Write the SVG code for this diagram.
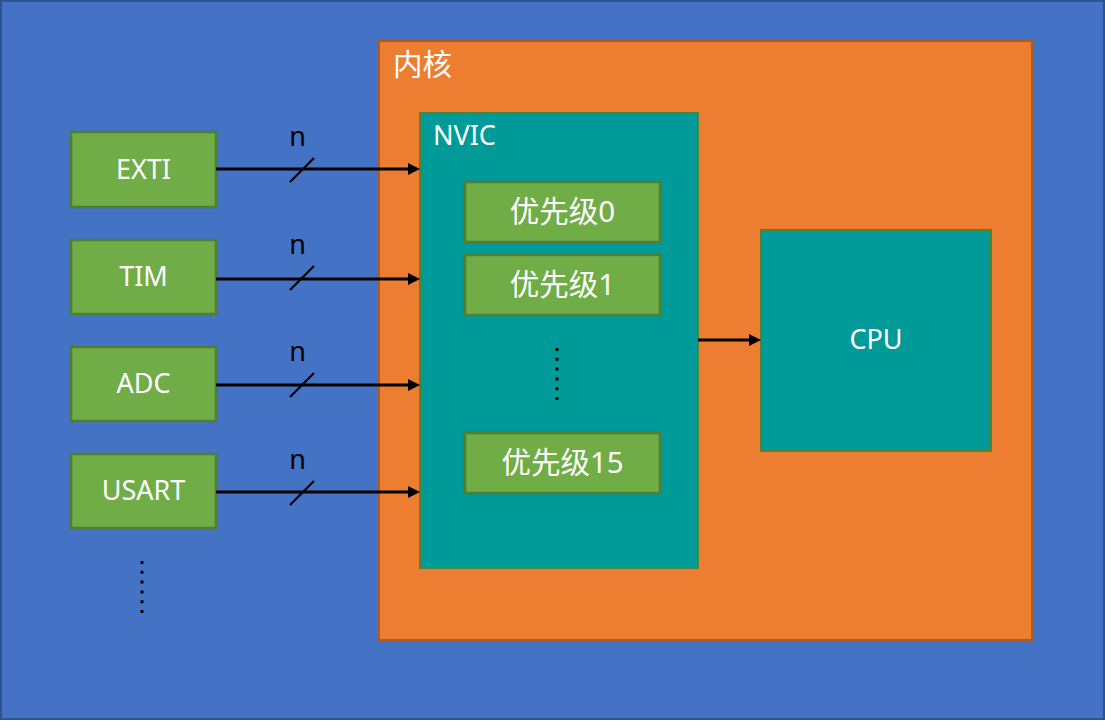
<svg xmlns="http://www.w3.org/2000/svg" width="1105" height="721" viewBox="0 0 1105 721">
<defs>
<style>
.bg{fill:#4472C4;stroke:#2F528F;stroke-width:2}
.core{fill:#ED7D31;stroke:#AE5A21;stroke-width:2}
.teal{fill:#009A99;stroke:#538135;stroke-width:2}
.green{fill:#70AD47;stroke:#507E32;stroke-width:2.5}
.t{font-family:"Noto Sans","Noto Sans CJK SC",sans-serif;font-size:27px;fill:#FFFFFF}
.cj{font-size:29.5px}
.c{text-anchor:middle}
.n{font-family:"Noto Sans","Noto Sans CJK SC",sans-serif;font-size:27px;fill:#000000;text-anchor:middle}
.wire{stroke:#000;stroke-width:3;fill:none}
.slash{stroke:#000;stroke-width:2.2}
.dots{stroke:#000;stroke-width:3;stroke-dasharray:3 6.8}
</style>
<marker id="arr" viewBox="0 0 12 12" refX="4" refY="6" markerWidth="12" markerHeight="12" markerUnits="userSpaceOnUse" orient="auto">
<path d="M0,0 L12,6 L0,12 Z" fill="#000"/>
</marker>
</defs>
<rect class="bg" x="1" y="1" width="1103" height="718"/>
<g id="core">
<rect class="core" x="379" y="41" width="653" height="599"/>
<text class="t cj" x="393" y="75">内核</text>
</g>
<g id="nvic">
<rect class="teal" x="420" y="113" width="278" height="455"/>
<text class="t" x="433" y="145">NVIC</text>
</g>
<g id="prio0">
<rect class="green" x="465" y="182" width="195" height="60"/>
<text class="t cj c" x="562.5" y="222">优先级0</text>
</g>
<g id="prio1">
<rect class="green" x="465" y="255" width="195" height="60"/>
<text class="t cj c" x="562.5" y="295">优先级1</text>
</g>
<g id="prio15">
<rect class="green" x="465" y="433" width="195" height="60"/>
<text class="t cj c" x="562.5" y="473">优先级15</text>
</g>
<g id="cpu">
<rect class="teal" x="761" y="230" width="230" height="221"/>
<text class="t c" x="876" y="349">CPU</text>
</g>
<g id="exti">
<rect class="green" x="71" y="132" width="145" height="75"/>
<text class="t c" x="143.5" y="179">EXTI</text>
</g>
<g id="tim">
<rect class="green" x="71" y="240" width="145" height="74"/>
<text class="t c" x="143.5" y="286">TIM</text>
</g>
<g id="adc">
<rect class="green" x="71" y="347" width="145" height="74"/>
<text class="t c" x="143.5" y="393">ADC</text>
</g>
<g id="usart">
<rect class="green" x="71" y="454" width="145" height="74"/>
<text class="t c" x="143.5" y="500">USART</text>
</g>
<g id="ellipsis">
<line class="dots" x1="142" y1="561" x2="142" y2="614"/>
<line class="dots" x1="557" y1="348" x2="557" y2="401"/>
</g>
<g id="connectors">
<line class="wire" x1="216" y1="169" x2="412" y2="169" marker-end="url(#arr)"/>
<line class="wire" x1="216" y1="279" x2="412" y2="279" marker-end="url(#arr)"/>
<line class="wire" x1="216" y1="385" x2="412" y2="385" marker-end="url(#arr)"/>
<line class="wire" x1="216" y1="492" x2="412" y2="492" marker-end="url(#arr)"/>
<line class="wire" x1="698" y1="340" x2="753" y2="340" marker-end="url(#arr)"/>
<line class="slash" x1="290" y1="182" x2="314" y2="158"/>
<line class="slash" x1="290" y1="290" x2="314" y2="266"/>
<line class="slash" x1="290" y1="397" x2="314" y2="373"/>
<line class="slash" x1="290" y1="505" x2="314" y2="481"/>
<text class="n" x="297.5" y="146">n</text>
<text class="n" x="297.5" y="254">n</text>
<text class="n" x="297.5" y="361">n</text>
<text class="n" x="297.5" y="469">n</text>
</g>
</svg>
